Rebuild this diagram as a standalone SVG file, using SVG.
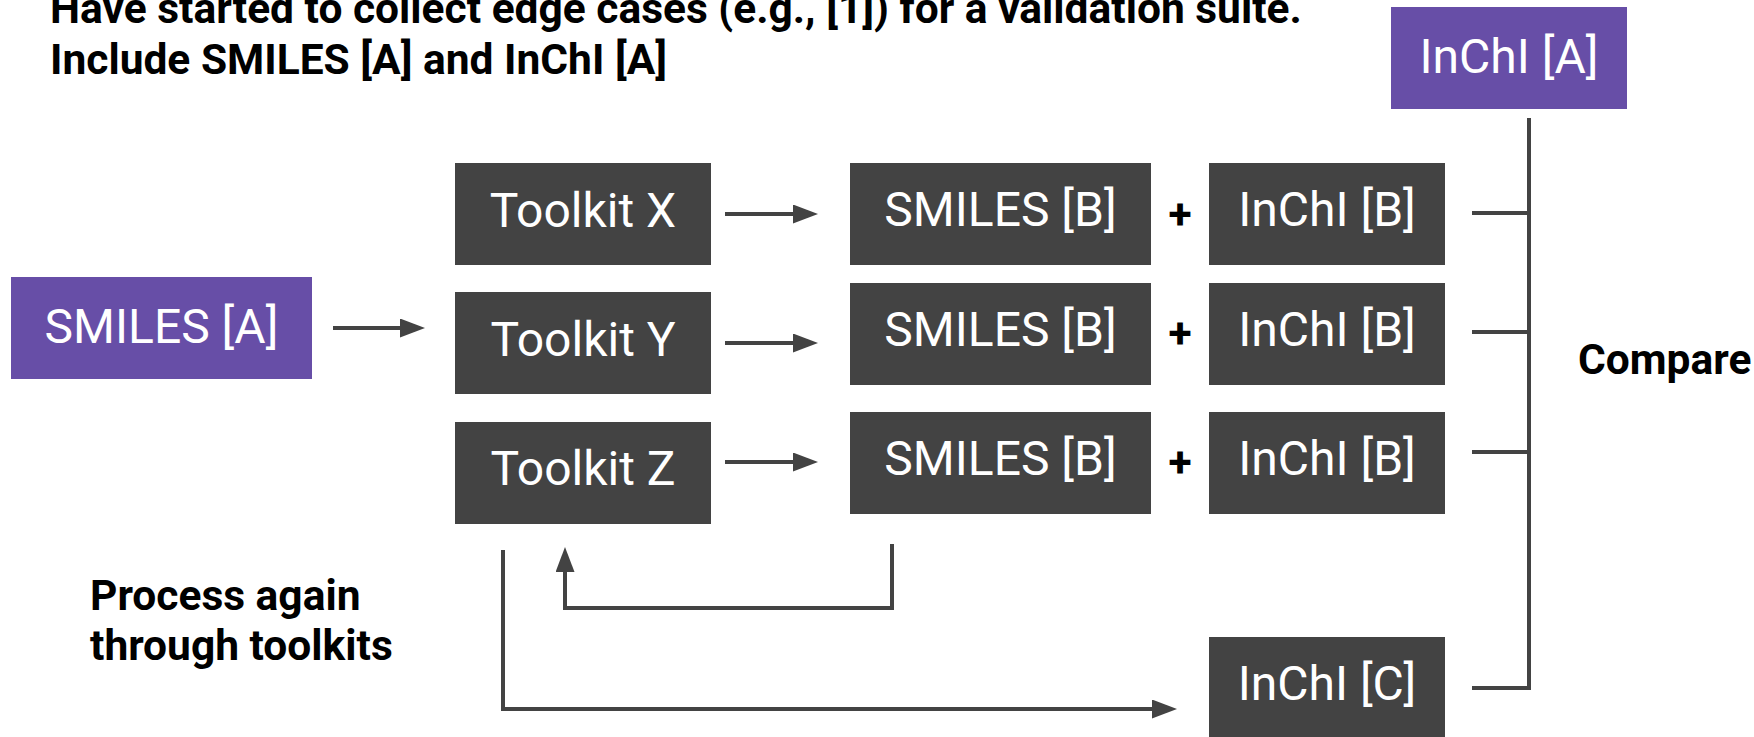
<svg xmlns="http://www.w3.org/2000/svg" width="1754" height="737" viewBox="0 0 1754 737">
<defs>
<style>
.purple{fill:#674ea7}
.dark{fill:#434343}
.bt{font-family:Roboto,"Liberation Sans",sans-serif;font-size:48px;fill:#ffffff;text-anchor:middle}
.bold{font-family:Roboto,"Liberation Sans",sans-serif;font-size:42.5px;font-weight:bold;fill:#000000}
.conn{fill:none;stroke:#434343;stroke-width:4}
</style>
<marker id="ah" markerUnits="userSpaceOnUse" markerWidth="26" markerHeight="20" refX="0" refY="9.5" orient="auto">
<path d="M0,0 L25,9.5 L0,19 z" fill="#434343"/>
</marker>
</defs>
<rect width="1754" height="737" fill="#ffffff"/>
<g id="title">
<text class="bold" x="50" y="23">Have started to collect edge cases (e.g., [1]) for a validation suite.</text>
<text class="bold" x="50" y="74">Include SMILES [A] and InChI [A]</text>
</g>
<g id="process-label"><text class="bold" x="90" y="610">Process again</text><text class="bold" x="90" y="660">through toolkits</text></g>
<g id="compare-label"><text class="bold" x="1578" y="374">Compare</text></g>
<g id="smiles-a"><rect class="purple" x="11" y="277" width="301" height="102"/><text class="bt" x="161.5" y="343">SMILES [A]</text></g>
<g id="inchi-a"><rect class="purple" x="1391" y="7" width="236" height="102"/><text class="bt" x="1509" y="73">InChI [A]</text></g>
<g id="toolkit-x"><rect class="dark" x="455" y="163" width="256" height="102"/><text class="bt" x="583" y="226.5">Toolkit X</text></g>
<g id="toolkit-y"><rect class="dark" x="455" y="292" width="256" height="102"/><text class="bt" x="583" y="355.5">Toolkit Y</text></g>
<g id="toolkit-z"><rect class="dark" x="455" y="422" width="256" height="102"/><text class="bt" x="583" y="485">Toolkit Z</text></g>
<g id="smiles-b1"><rect class="dark" x="850" y="163" width="301" height="102"/><text class="bt" x="1000.5" y="226">SMILES [B]</text></g>
<g id="smiles-b2"><rect class="dark" x="850" y="283" width="301" height="102"/><text class="bt" x="1000.5" y="346">SMILES [B]</text></g>
<g id="smiles-b3"><rect class="dark" x="850" y="412" width="301" height="102"/><text class="bt" x="1000.5" y="475">SMILES [B]</text></g>
<g id="plus1"><text class="bold" x="1180" y="229" text-anchor="middle">+</text></g>
<g id="plus2"><text class="bold" x="1180" y="348" text-anchor="middle">+</text></g>
<g id="plus3"><text class="bold" x="1180" y="477" text-anchor="middle">+</text></g>
<g id="inchi-b1"><rect class="dark" x="1209" y="163" width="236" height="102"/><text class="bt" x="1327" y="226">InChI [B]</text></g>
<g id="inchi-b2"><rect class="dark" x="1209" y="283" width="236" height="102"/><text class="bt" x="1327" y="346">InChI [B]</text></g>
<g id="inchi-b3"><rect class="dark" x="1209" y="412" width="236" height="102"/><text class="bt" x="1327" y="475">InChI [B]</text></g>
<g id="inchi-c"><rect class="dark" x="1209" y="637" width="236" height="102"/><text class="bt" x="1327" y="700">InChI [C]</text></g>
<g id="connectors">
<line class="conn" x1="333" y1="328" x2="400" y2="328" marker-end="url(#ah)"/>
<line class="conn" x1="725" y1="214" x2="793" y2="214" marker-end="url(#ah)"/>
<line class="conn" x1="725" y1="343" x2="793" y2="343" marker-end="url(#ah)"/>
<line class="conn" x1="725" y1="462" x2="793" y2="462" marker-end="url(#ah)"/>
<polyline class="conn" points="892,544 892,608 565,608 565,572" marker-end="url(#ah)"/>
<polyline class="conn" points="503,550 503,709 1152,709" marker-end="url(#ah)"/>
<line class="conn" x1="1529" y1="118" x2="1529" y2="690"/>
<line class="conn" x1="1472" y1="213" x2="1529" y2="213"/>
<line class="conn" x1="1472" y1="332" x2="1529" y2="332"/>
<line class="conn" x1="1472" y1="452" x2="1529" y2="452"/>
<line class="conn" x1="1472" y1="688" x2="1531" y2="688"/>
</g>
</svg>
